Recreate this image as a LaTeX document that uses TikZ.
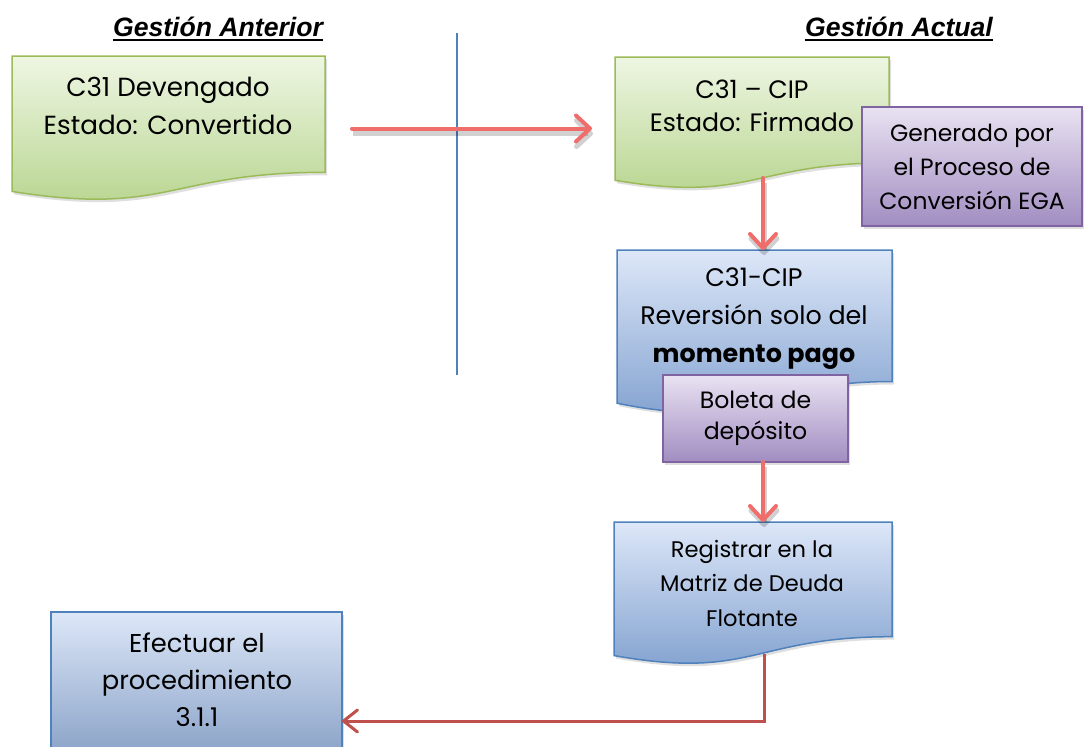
\documentclass[tikz,border=0pt]{standalone}
\usepackage{fontspec}
\setmainfont{Poppins}
\newfontfamily\titlefont{Liberation Sans}
\usetikzlibrary{arrows.meta,shadows}
\definecolor{gtop}{HTML}{EEF6E3}
\definecolor{gbot}{HTML}{B5D38B}
\definecolor{gline}{HTML}{9BBB59}
\definecolor{btop}{HTML}{DDE7F8}
\definecolor{bbot}{HTML}{7C9DCD}
\definecolor{bline}{HTML}{4F81BD}
\definecolor{ptop}{HTML}{E9E2F2}
\definecolor{pbot}{HTML}{A18DC1}
\definecolor{pline}{HTML}{8064A2}
\definecolor{arrpink}{HTML}{EF6E6C}
\definecolor{arrred}{HTML}{C0504D}
\tikzset{
  frame/.style={draw=none,fill=none,inner sep=0pt,outer sep=0pt},
  shadowed/.style={drop shadow={opacity=0.25,shadow xshift=2pt,shadow yshift=-3pt}},
  greenfill/.style={shadowed,draw=gline,line width=1.5pt,top color=gtop,bottom color=gbot},
  bluefill/.style={shadowed,draw=bline,line width=1.5pt,top color=btop,bottom color=bbot},
  purplebox/.style={shadowed,draw=pline,line width=1.5pt,top color=ptop,bottom color=pbot,
    inner sep=0pt,outer sep=0pt,align=center},
  txt/.style={align=center,inner sep=0pt,text=black},
  ttl/.style={inner sep=0pt,anchor=base,font=\titlefont\fontsize{26.6}{30}\selectfont\bfseries\itshape},
  arrlight/.style={draw=arrpink,line width=4pt,line cap=round,
    preaction={draw=black,opacity=0.18,line width=5pt,transform canvas={xshift=1pt,yshift=-5pt}},
    -{Straight Barb[round,length=14pt,width=26pt]}},
  arrdark/.style={draw=arrred,line width=3pt,
    -{Straight Barb[round,length=14pt,width=22pt]}},
}
\newcommand{\docshape}[6]{%
  \path[#6] (#2,#3) -- ({#2+#4},#3) -- ({#2+#4},{#3+0.802*#5})
    .. controls ({#2+#4/2},{#3+0.802*#5}) and ({#2+#4/2},{#3+1.1075*#5}) .. (#2,{#3+0.934*#5}) -- cycle;
  \node[frame,minimum width=#4pt,minimum height=#5pt] (#1) at ({#2+#4/2},{#3+#5/2}) {};}
\begin{document}
\begin{tikzpicture}[x=1pt,y=-1pt]
\useasboundingbox (0,0) rectangle (1088,747);
% titles
\node[ttl] (t1) at (218,36) {Gestión Anterior};
\node[ttl] (t2) at (899,36) {Gestión Actual};
\draw[line width=1.8pt] ([yshift=-4pt]t1.base west) -- ([yshift=-4pt]t1.base east);
\draw[line width=1.8pt] ([yshift=-4pt]t2.base west) -- ([yshift=-4pt]t2.base east);
% divider
\coordinate (vt) at (457,33);
\coordinate (vb) at (457,375);
\draw[bline,line width=1.5pt] (vt) -- (vb);
% shapes
\docshape{g1}{12}{56}{313}{145}{greenfill}
\node[txt,font=\fontsize{26.2}{38}\selectfont] (g1t) at (168,106) {C31 Devengado\\Estado: Convertido};
\docshape{g2}{615}{57}{274}{132}{greenfill}
\node[txt,font=\fontsize{25.2}{33}\selectfont] (g2t) at (752,106) {C31 -- CIP\\Estado: Firmado};
\node[purplebox,font=\fontsize{23.5}{34}\selectfont,minimum width=220pt,minimum height=119pt] (p1) at (972,166.5) {Generado por\\el Proceso de\\Conversión EGA};
\docshape{b2}{617}{250}{275}{164}{bluefill}
\node[txt,font=\fontsize{25.4}{38}\selectfont] (b2t) at (754,319) {C31-CIP\\Reversión solo del\\\textbf{momento pago}};
\node[purplebox,font=\fontsize{23.6}{31}\selectfont,minimum width=185pt,minimum height=87pt] (p2) at (755.5,418.5) {Boleta de\\depósito};
\docshape{b3}{614}{522}{278}{143}{bluefill}
\node[txt,font=\fontsize{22.6}{34.5}\selectfont] (b3t) at (752,583) {Registrar en la\\Matriz de Deuda\\Flotante};
% bottom-left box (runs off the page)
\node[frame,minimum width=291pt,minimum height=218pt] (e) at (196.5,721) {};
\path[shadowed,top color=btop,bottom color=bbot!90!black] (51,612) rectangle (342,800);
\draw[bline,line width=1.5pt] (51,760) -- (51,612) -- (342,612) -- (342,760);
\node[txt,font=\fontsize{25.8}{37}\selectfont] (et) at (197,680) {Efectuar el\\procedimiento\\3.1.1};
% connectors
\draw[arrlight,shorten <=27pt,shorten >=23pt] (g1.east) -- (g1.east -| g2.west);
\draw[arrlight] ([xshift=11pt,yshift=11pt]g2.south) -- ([xshift=11pt]g2.south |- b2.north);
\draw[arrlight] ([xshift=7.5pt]p2.south) -- ([xshift=7.5pt]p2.south |- b3.north);
\draw[arrdark] ([xshift=11pt,yshift=11pt]b3.south) |- (e.east);
\end{tikzpicture}
\end{document}
